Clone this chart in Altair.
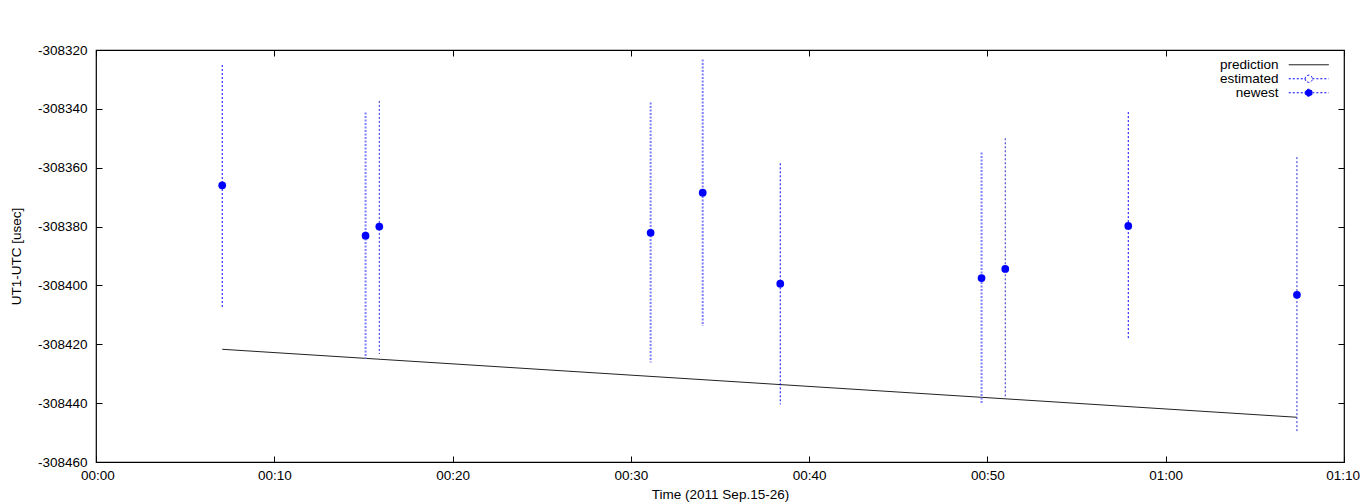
import altair as alt
import pandas as pd

# ---- data ----
t_min = [7.08, 15.12, 15.89, 31.11, 34.03, 38.38, 49.67, 51.0, 57.9, 67.36]
ut1 = [-308366.0, -308383.1, -308380.0, -308382.1, -308368.5,
       -308399.4, -308397.5, -308394.4, -308379.8, -308403.2]
err_hi = [-308325.1, -308341.2, -308337.3, -308337.8, -308323.2,
          -308358.5, -308354.8, -308350.0, -308341.1, -308356.4]
err_lo = [-308407.4, -308424.8, -308423.3, -308426.2, -308413.8,
          -308440.4, -308440.3, -308438.4, -308418.3, -308450.0]
bar_kind = ["b", "a", "c", "a", "a", "b", "a", "c", "b", "c"]

pred_t = [7.08, 67.36]
pred_v = [-308421.7, -308444.8]

x_ticks = [0, 10, 20, 30, 40, 50, 60, 70]
x_labels = ["00:00", "00:10", "00:20", "00:30", "00:40", "00:50", "01:00", "01:10"]
y_ticks = [-308460, -308440, -308420, -308400, -308380, -308360, -308340, -308320]
legend_names = ["prediction", "estimated", "newest"]

pts = pd.DataFrame({"t": t_min, "v": ut1, "hi": err_hi, "lo": err_lo, "kind": bar_kind})
pred = pd.DataFrame({"t": pred_t, "v": pred_v})
leg_df = pd.DataFrame({"series": legend_names})

FONT = "Liberation Sans"
xs = alt.Scale(domain=[0, 70], nice=False, zero=False)
ys = alt.Scale(domain=[-308460, -308320], nice=False, zero=False)

label_expr = "[" + ",".join(f"'{l}'" for l in x_labels) + "][round(datum.value/10)]"

common_ax = dict(domain=False, grid=False, tickSize=6, offset=-6, tickColor="black",
                 tickWidth=1, labelFont=FONT, labelFontSize=13.5, labelColor="black",
                 labelOverlap=False,
                 titleFont=FONT, titleFontSize=13.5, titleColor="black",
                 titleFontWeight="normal")

bottom_axis = alt.Axis(orient="bottom", values=x_ticks, labelExpr=label_expr,
                       title="Time (2011 Sep.15-26)", labelPadding=6, titlePadding=6,
                       labelFlush=True, labelFlushOffset=15.5, **common_ax)
left_axis = alt.Axis(orient="left", values=y_ticks, labelExpr="datum.value + ''",
                     title="UT1-UTC [usec]", labelPadding=9, titlePadding=14,
                     labelFlush=False, **common_ax)
top_axis = alt.Axis(orient="top", values=x_ticks, labels=False, title=None, **common_ax)
right_axis = alt.Axis(orient="right", values=y_ticks, labels=False, title=None, **common_ax)

pred_layer = alt.Chart(pred).mark_line(color="#222222", strokeWidth=1).encode(
    x=alt.X("t:Q", scale=xs, axis=bottom_axis),
    y=alt.Y("v:Q", scale=ys, axis=left_axis),
)

styles = {
    "a": dict(color="#7f7fff", strokeWidth=2, strokeDash=[2, 1.5]),
    "b": dict(color="#0000ff", strokeWidth=1, strokeDash=[2, 2]),
    "c": dict(color="#2b2bd0", strokeWidth=1, strokeDash=[2, 2]),
}
rule_layers = []
for i, k in enumerate(["a", "b", "c"]):
    rule_layers.append(
        alt.Chart(pts).transform_filter(f"datum.kind == '{k}'").mark_rule(**styles[k]).encode(
            x=alt.X("t:Q", scale=xs, axis=top_axis if i == 0 else None),
            y=alt.Y("hi:Q", scale=ys, axis=right_axis if i == 0 else None),
            y2="lo:Q",
        )
    )

point_layer = alt.Chart(pts).mark_circle(size=60, color="#0000ff", opacity=1).encode(
    x=alt.X("t:Q", scale=xs, axis=None),
    y=alt.Y("v:Q", scale=ys, axis=None),
)

line_path = "M-5,0H5"
circ = "M-0.9,0A0.9,0.9,0,1,1,0.9,0A0.9,0.9,0,1,1,-0.9,0Z"
open_path = "M-5,0H-0.9M0.9,0H5" + circ
filled_path = "M-5,0H-0.9M0.9,0H5" + circ

leg = alt.Legend(title=None, orient="none", legendX=1206, legendY=8, labelAlign="right",
                 labelOffset={"expr": "-37"}, labelFont=FONT, labelFontSize=13.5,
                 labelColor="black", symbolSize=64, symbolStrokeWidth=1,
                 rowPadding={"expr": "-1"}, padding=0, labelLimit=0)

legend_layer = alt.Chart(leg_df).transform_filter("false").mark_point(
    opacity=1, strokeWidth=1, size=64).encode(
    shape=alt.Shape("series:N", scale=alt.Scale(domain=legend_names,
                    range=[line_path, open_path, filled_path]), legend=leg),
    fill=alt.Fill("series:N", scale=alt.Scale(domain=legend_names,
                  range=["transparent", "white", "#0000ff"]), legend=leg),
    stroke=alt.Stroke("series:N", scale=alt.Scale(domain=legend_names,
                      range=["black", "#0000ff", "#0000ff"]), legend=leg),
    strokeDash=alt.StrokeDash("series:N", scale=alt.Scale(domain=legend_names,
                              range=[[1, 0], [2, 2], [2, 2]]), legend=leg),
)

chart = alt.layer(pred_layer, *rule_layers, point_layer, legend_layer).resolve_axis(
    x="independent", y="independent"
).properties(
    width=1248, height=412,
    autosize=alt.AutoSizeParams(type="none"),
    padding={"left": 88, "top": 42, "right": 16, "bottom": 40},
    background="white",
).configure(
    font=FONT,
    view=alt.ViewConfig(stroke="black", strokeWidth=1.2),
)

chart.save("out.html", embed_options={"renderer": "svg", "actions": False})
